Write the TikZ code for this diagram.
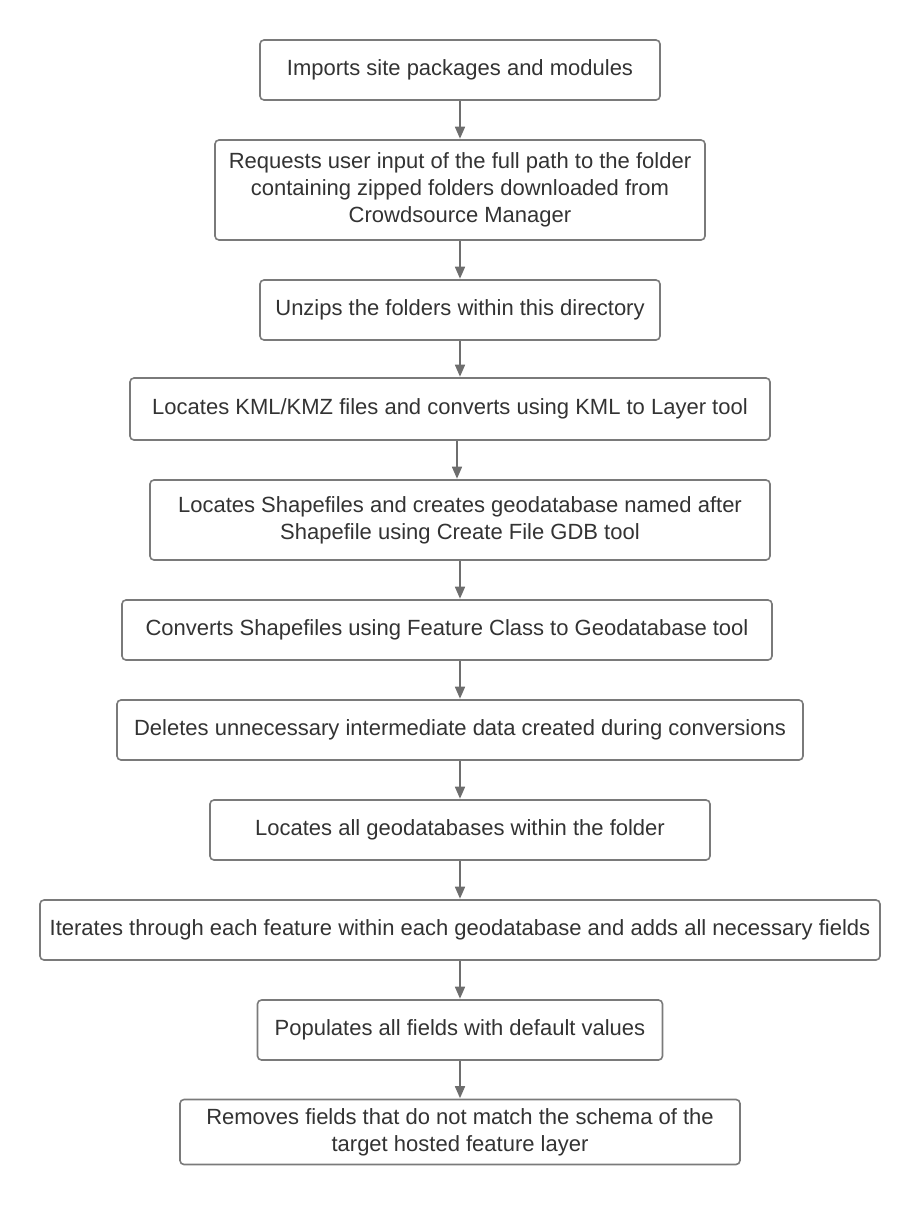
\documentclass[tikz,border=0pt]{standalone}
\usepackage{fontspec}
\setmainfont{Liberation Sans}
\usetikzlibrary{arrows.meta}
\definecolor{boxline}{HTML}{7A7A7A}
\definecolor{txt}{HTML}{333333}
\definecolor{arr}{HTML}{6E6E6E}
\begin{document}
\begin{tikzpicture}[x=1pt,y=-1pt,
  box/.style={draw=boxline,line width=1.6pt,rounded corners=4pt,fill=white,
    align=center,text=txt,inner sep=0pt,font=\fontsize{22}{27}\selectfont},
  flow/.style={draw=arr,line width=1.6pt,-{Triangle[length=12pt,width=10pt]},shorten >=0.5pt}]
\useasboundingbox (0,0) rectangle (920,1205);
\node[box,minimum width=400,minimum height=60] (b1) at (460,70) {Imports site packages and modules};
\node[box,minimum width=490,minimum height=100] (b2) at (460,190) {Requests user input of the full path to the folder\\containing zipped folders downloaded from\\Crowdsource Manager};
\node[box,minimum width=400,minimum height=60] (b3) at (460,310) {Unzips the folders within this directory};
\node[box,minimum width=640,minimum height=62] (b4) at (450,409) {Locates KML/KMZ files and converts using KML to Layer tool};
\node[box,minimum width=620,minimum height=80] (b5) at (460,520) {Locates Shapefiles and creates geodatabase named after\\Shapefile using Create File GDB tool};
\node[box,minimum width=650,minimum height=60] (b6) at (447,630) {Converts Shapefiles using Feature Class to Geodatabase tool};
\node[box,minimum width=686,minimum height=60] (b7) at (460,730) {Deletes unnecessary intermediate data created during conversions};
\node[box,minimum width=500,minimum height=60] (b8) at (460,830) {Locates all geodatabases within the folder};
\node[box,minimum width=840,minimum height=60] (b9) at (460,930) {Iterates through each feature within each geodatabase and adds all necessary fields};
\node[box,minimum width=405,minimum height=60] (b10) at (460,1030) {Populates all fields with default values};
\node[box,minimum width=560,minimum height=65] (b11) at (460,1132) {Removes fields that do not match the schema of the\\target hosted feature layer};
\draw[flow] (b1.south -| 460,0) -- (b2.north -| 460,0);
\draw[flow] (b2.south -| 460,0) -- (b3.north -| 460,0);
\draw[flow] (b3.south -| 460,0) -- (b4.north -| 460,0);
\draw[flow] (b4.south -| 457,0) -- (b5.north -| 457,0);
\draw[flow] (b5.south -| 460,0) -- (b6.north -| 460,0);
\draw[flow] (b6.south -| 460,0) -- (b7.north -| 460,0);
\draw[flow] (b7.south -| 460,0) -- (b8.north -| 460,0);
\draw[flow] (b8.south -| 460,0) -- (b9.north -| 460,0);
\draw[flow] (b9.south -| 460,0) -- (b10.north -| 460,0);
\draw[flow] (b10.south -| 460,0) -- (b11.north -| 460,0);
\end{tikzpicture}
\end{document}
